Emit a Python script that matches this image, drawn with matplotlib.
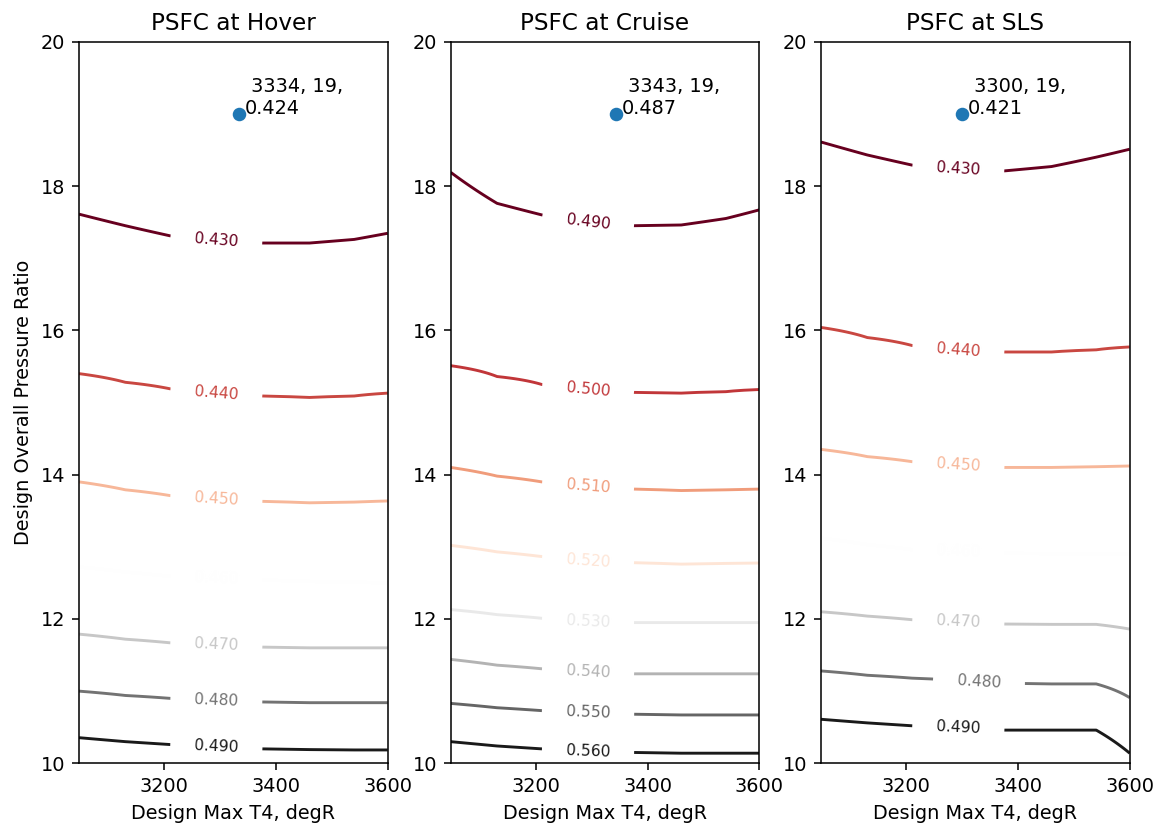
import numpy as np
import matplotlib
matplotlib.use("Agg")
import matplotlib.pyplot as plt

# ---------------- data ----------------
# Design max T4 (degR) at which the contour positions were read
T4 = [3047, 3130, 3210, 3293, 3376, 3460, 3540, 3600]

# Hover
hover_levels = [0.430, 0.440, 0.450, 0.460, 0.470, 0.480, 0.490]
hover_opr = [
    [17.61, 17.45, 17.31, 17.25, 17.21, 17.21, 17.26, 17.345],
    [15.40, 15.28, 15.19, 15.13, 15.09, 15.07, 15.09, 15.13],
    [13.90, 13.79, 13.71, 13.66, 13.63, 13.61, 13.62, 13.635],
    [12.72, 12.65, 12.59, 12.56, 12.54, 12.52, 12.51, 12.50],
    [11.79, 11.72, 11.67, 11.64, 11.61, 11.60, 11.60, 11.60],
    [11.00, 10.94, 10.90, 10.87, 10.85, 10.84, 10.84, 10.84],
    [10.355, 10.30, 10.26, 10.23, 10.20, 10.19, 10.185, 10.185],
]
hover_point = (3334, 19, 0.424)

# Cruise
cruise_levels = [0.490, 0.500, 0.510, 0.520, 0.530, 0.540, 0.550, 0.560]
cruise_opr = [
    [18.19, 17.76, 17.60, 17.50, 17.45, 17.46, 17.55, 17.67],
    [15.51, 15.36, 15.25, 15.18, 15.14, 15.13, 15.15, 15.18],
    [14.10, 13.98, 13.90, 13.84, 13.80, 13.78, 13.79, 13.80],
    [13.02, 12.93, 12.865, 12.81, 12.78, 12.76, 12.77, 12.775],
    [12.13, 12.06, 12.01, 11.97, 11.95, 11.95, 11.95, 11.95],
    [11.44, 11.36, 11.31, 11.27, 11.24, 11.24, 11.24, 11.24],
    [10.83, 10.77, 10.73, 10.70, 10.68, 10.67, 10.67, 10.67],
    [10.30, 10.24, 10.20, 10.17, 10.15, 10.14, 10.14, 10.14],
]
cruise_point = (3343, 19, 0.487)

# SLS
sls_levels = [0.430, 0.440, 0.450, 0.460, 0.470, 0.480, 0.490]
sls_opr = [
    [18.61, 18.43, 18.29, 18.24, 18.21, 18.27, 18.40, 18.51],
    [16.04, 15.90, 15.79, 15.73, 15.70, 15.70, 15.73, 15.77],
    [14.35, 14.25, 14.18, 14.13, 14.10, 14.10, 14.11, 14.12],
    [13.12, 13.03, 12.96, 12.93, 12.91, 12.905, 12.90, 12.90],
    [12.10, 12.04, 11.99, 11.96, 11.93, 11.925, 11.925, 11.86],
    [11.28, 11.22, 11.18, 11.15, 11.11, 11.10, 11.10, 10.91],
    [10.61, 10.56, 10.52, 10.49, 10.46, 10.46, 10.46, 10.14],
]
sls_point = (3300, 19, 0.421)

titles = ["PSFC at Hover", "PSFC at Cruise", "PSFC at SLS"]
xlabel = "Design Max T4, degR"
ylabel = "Design Overall Pressure Ratio"
yticks = [10, 12, 14, 16, 18, 20]
xticks = [3200, 3400, 3600]


# --------- build the grid the contour routine needs ---------
def build_grid(levels, opr_rows, opr_axis):
    lev = np.asarray(levels, float)
    P = np.asarray(opr_rows, float)
    Z = np.empty((len(opr_axis), P.shape[1]))
    for j in range(P.shape[1]):
        p = P[:, j]
        order = np.argsort(p)
        ps, ls = p[order], lev[order]
        z = np.interp(opr_axis, ps, ls)
        lo = opr_axis < ps[0]
        hi = opr_axis > ps[-1]
        s0 = (ls[1] - ls[0]) / (ps[1] - ps[0])
        s1 = (ls[-1] - ls[-2]) / (ps[-1] - ps[-2])
        z[lo] = ls[0] + (opr_axis[lo] - ps[0]) * s0
        z[hi] = ls[-1] + (opr_axis[hi] - ps[-1]) * s1
        Z[:, j] = z
    return Z


DPI = 139
fig = plt.figure(figsize=(1156 / DPI, 825 / DPI), dpi=DPI)

lefts = [79 / 1156, 450.7 / 1156, 821 / 1156]
width = 308.7 / 1156
bottom = 1 - 763.3 / 825
height = (763.3 - 41.7) / 825

panels = [
    (hover_levels, hover_opr, hover_point, {}),
    (cruise_levels, cruise_opr, cruise_point, {}),
    (sls_levels, sls_opr, sls_point, {0.480: 3330}),
]

opr_axis = np.linspace(10, 20, 1001)
label_T4 = 3293

for k, (levels, opr_rows, point, label_override) in enumerate(panels):
    ax = fig.add_axes([lefts[k], bottom, width, height])
    Z = build_grid(levels, opr_rows, opr_axis)
    cs = ax.contour(T4, opr_axis, Z, levels=levels, cmap="RdGy")
    ax.set_xlim(T4[0], T4[-1])
    ax.set_ylim(10, 20)
    ax.set_xticks(xticks)
    ax.set_yticks(yticks)

    manual = []
    for lev, row in zip(levels, opr_rows):
        xl = label_override.get(round(lev, 3), label_T4)
        yl = float(np.interp(xl, T4, row))
        manual.append((xl, yl))
    ax.clabel(cs, levels, fmt="%1.3f", fontsize=8, inline=True,
              inline_spacing=24, manual=manual)

    px, py, pz = point
    ax.plot([px], [py], "o", color="C0")
    ax.annotate(f" {px}, {py},\n{pz}", (px, py), xytext=(3, 0),
                textcoords="offset points", ha="left", va="baseline",
                fontsize=10)

    ax.set_title(titles[k], fontsize=12)
    ax.set_xlabel(xlabel)
    if k == 0:
        ax.set_ylabel(ylabel)

fig.savefig("out.png", dpi=DPI)
